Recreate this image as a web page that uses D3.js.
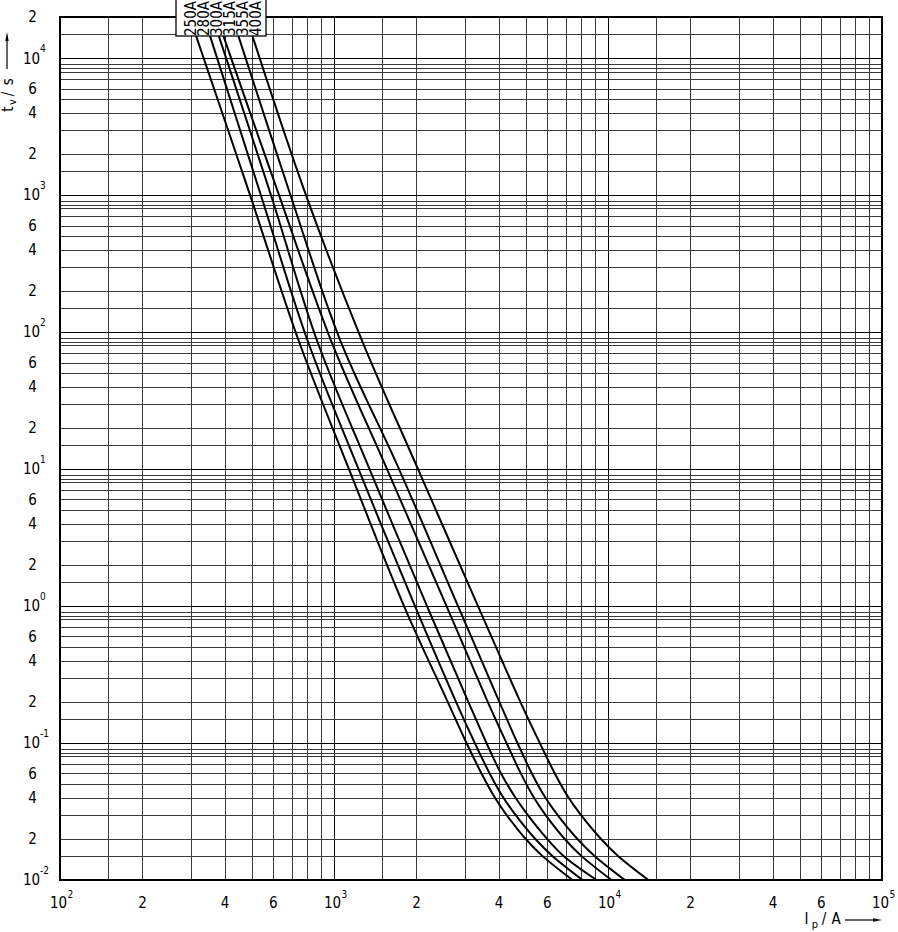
<!DOCTYPE html>
<html><head><meta charset="utf-8">
<script src="https://cdn.jsdelivr.net/npm/d3@7"></script>
<style>
html,body{margin:0;padding:0;background:#fff;}
svg{display:block;}
text{font-family:"Liberation Sans Narrow","DejaVu Sans Condensed","Arial Narrow",sans-serif;fill:#000;}
</style></head><body>
<svg id="chart" width="898" height="932"></svg>
<script>
// ---- data ----
const seriesNames = ["250A", "280A", "300A", "315A", "355A", "400A"];
const timesS = [14500, 1000, 88, 10, 1, 0.2, 0.1, 0.06, 0.04, 0.03, 0.02, 0.015, 0.01];
const current250A = [314, 494, 741, 1134, 1801, 2600, 3045, 3454, 3864, 4255, 5000, 5758, 7423];
const current280A = [353, 541, 799, 1229, 1975, 2788, 3265, 3698, 4149, 4589, 5420, 6263, 8084];
const current300A = [380, 589, 865, 1348, 2185, 3092, 3602, 4069, 4592, 5084, 5990, 6880, 9093];
const current315A = [395, 630, 973, 1561, 2574, 3639, 4262, 4806, 5361, 5905, 6938, 7990, 10298];
const current355A = [448, 694, 1052, 1727, 2835, 4012, 4674, 5272, 5905, 6531, 7718, 8927, 11535];
const current400A = [504, 790, 1262, 2026, 3354, 4786, 5638, 6395, 7175, 7950, 9413, 10877, 14055];

const xLabelValues = [100, 200, 400, 600, 1000, 2000, 4000, 6000, 10000, 20000, 40000, 60000, 100000];
const xLabelMain   = ["10", "2", "4", "6", "10", "2", "4", "6", "10", "2", "4", "6", "10"];
const xLabelSup    = ["2", "", "", "", "3", "", "", "", "4", "", "", "", "5"];

const yLabelValues = [0.01, 0.02, 0.04, 0.06, 0.1, 0.2, 0.4, 0.6, 1, 2, 4, 6, 10, 20, 40, 60,
                      100, 200, 400, 600, 1000, 2000, 4000, 6000, 10000, 20000];
const yLabelMain   = ["10", "2", "4", "6", "10", "2", "4", "6", "10", "2", "4", "6", "10", "2", "4", "6",
                      "10", "2", "4", "6", "10", "2", "4", "6", "10", "2"];
const yLabelSup    = ["-2", "", "", "", "-1", "", "", "", "0", "", "", "", "1", "", "", "",
                      "2", "", "", "", "3", "", "", "", "4", ""];

const xDecades = [100, 1000, 10000, 100000];
const yDecades = [0.01, 0.1, 1, 10, 100, 1000, 10000];
const xGridMult = [1, 1.5, 2, 3, 4, 5, 6, 7, 8, 9];
const yGridMult = [1, 1.5, 2, 3, 4, 5, 6, 7, 8, 8.5, 9];

// ---- layout ----
const L = 60, R = 882, T = 17, B = 880;
const svg = d3.select("#chart");
const x = d3.scaleLog().domain([100, 1e5]).range([L, R]);
const y = d3.scaleLog().domain([0.01, 2e4]).range([B, T]);

const xGridVals = [];
xDecades.forEach(d => xGridMult.forEach(m => { const v = d * m; if (v <= 1e5 + 1e-9) xGridVals.push(v); }));
const yGridVals = [];
yDecades.forEach(d => yGridMult.forEach(m => { const v = d * m; if (v <= 2e4 * 1.0001) yGridVals.push(v); }));

const isDecade = v => Math.abs(Math.log10(v) - Math.round(Math.log10(v))) < 1e-9;

// vertical grid
const gx = svg.append("g").attr("transform", `translate(0,${B})`)
  .call(d3.axisBottom(x).tickValues(xGridVals).tickSize(-(B - T)).tickFormat(""));
gx.select(".domain").remove();
gx.selectAll(".tick line")
  .attr("stroke", d => isDecade(d) ? "#000" : "#3a3a3a")
  .attr("stroke-width", d => isDecade(d) ? 1.2 : 1)
  .attr("shape-rendering", "crispEdges");

// horizontal grid
const gy = svg.append("g").attr("transform", `translate(${L},0)`)
  .call(d3.axisLeft(y).tickValues(yGridVals).tickSize(-(R - L)).tickFormat(""));
gy.select(".domain").remove();
gy.selectAll(".tick line")
  .attr("stroke", d => isDecade(d) ? "#000" : "#3a3a3a")
  .attr("stroke-width", d => isDecade(d) ? 1.2 : 1)
  .attr("shape-rendering", "crispEdges");

// frame
svg.append("rect").attr("x", L).attr("y", T).attr("width", R - L).attr("height", B - T)
  .attr("fill", "none").attr("stroke", "#000").attr("stroke-width", 1.3)
  .attr("shape-rendering", "crispEdges");

// curves
const allCurrents = [current250A, current280A, current300A, current315A, current355A, current400A];
const line = d3.line()
  .x(d => x(d[0])).y(d => y(d[1]))
  .curve(d3.curveCatmullRom.alpha(0.5));
allCurrents.forEach(arr => {
  const pts = arr.map((c, i) => [c, timesS[i]]);
  svg.append("path").attr("d", line(pts))
    .attr("fill", "none").attr("stroke", "#000").attr("stroke-width", 2)
    .attr("stroke-linejoin", "round");
});

// legend box
svg.append("rect").attr("x", 176).attr("y", -1).attr("width", 90).attr("height", 37)
  .attr("fill", "#fff").attr("stroke", "#000").attr("stroke-width", 1.3);
seriesNames.forEach((n, i) => {
  svg.append("text")
    .attr("transform", `translate(${191 + 12.9 * i},18.5) rotate(-90)`)
    .attr("text-anchor", "middle").attr("dy", "0.36em")
    .attr("font-size", 15).text(n);
});

// x tick labels
xLabelValues.forEach((v, i) => {
  const sup = xLabelSup[i];
  svg.append("text").attr("x", x(v) - (sup ? 1.5 : 0)).attr("y", 907.5)
    .attr("text-anchor", "middle").attr("font-size", 15).text(xLabelMain[i]);
  if (sup) svg.append("text").attr("x", x(v) + 7.5).attr("y", 898)
    .attr("font-size", 10).text(sup);
});

// y tick labels
yLabelValues.forEach((v, i) => {
  const sup = yLabelSup[i];
  const by = y(v) + 5.3;
  svg.append("text").attr("x", sup ? 31.5 : 32.5).attr("y", by)
    .attr("text-anchor", "middle").attr("font-size", 15).text(yLabelMain[i]);
  if (sup) svg.append("text").attr("x", 40).attr("y", by - 11.7)
    .attr("font-size", 10).text(sup);
});

// y axis title (rotated)
const yt = [["t", 12.5, 109, 15], ["v", 15.5, 102, 11], ["/", 12.5, 94, 15], ["s", 12.5, 81.7, 15]];
yt.forEach(([s, bx, cy, fs]) => {
  svg.append("text").attr("transform", `translate(${bx},${cy}) rotate(-90)`)
    .attr("text-anchor", "middle").attr("font-size", fs).text(s);
});
svg.append("line").attr("x1", 7).attr("x2", 7).attr("y1", 69).attr("y2", 38)
  .attr("stroke", "#000").attr("stroke-width", 1.2);
svg.append("path").attr("d", "M7,32 L5.3,41 L8.7,41 Z").attr("fill", "#000");

// x axis title
const xt = [["I", 806.5, 924, 15], ["p", 815, 927.5, 11], ["/", 824, 924, 15], ["A", 836, 924, 15]];
xt.forEach(([s, cx, by, fs]) => {
  svg.append("text").attr("x", cx).attr("y", by).attr("text-anchor", "middle")
    .attr("font-size", fs).text(s);
});
svg.append("line").attr("x1", 845).attr("x2", 875).attr("y1", 920).attr("y2", 920)
  .attr("stroke", "#000").attr("stroke-width", 1.2);
svg.append("path").attr("d", "M882,920 L873,918.3 L873,921.7 Z").attr("fill", "#000");
</script>
</body></html>
